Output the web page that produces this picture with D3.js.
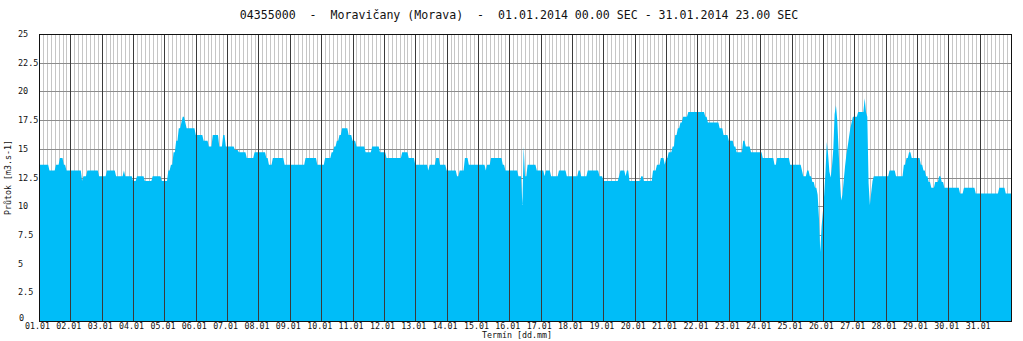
<!DOCTYPE html>
<html>
<head>
<meta charset="utf-8">
<script src="https://cdn.jsdelivr.net/npm/d3@7/dist/d3.min.js"></script>
<style>
  body { margin: 0; background: #fff; }
  svg text { font-family: "DejaVu Sans Mono", "Liberation Mono", monospace; fill: #111; }
</style>
</head>
<body>
<div id="chart"></div>
<script>
// hourly discharge, one row per day (01.01 - 31.01.2014)
var flow = [
  [13.6,13.6,13.6,13.6,13.6,13.6,13.6,13.6,13.1,13.1,13.1,13.1,13.1,13.6,13.6,13.6,14.2,14.2,14.2,13.6,13.6,13.1,13.1,13.1],
  [13.1,13.1,13.1,13.1,13.1,13.1,13.1,13.1,13.1,12.2,12.6,12.6,12.6,13.1,13.1,13.1,13.1,13.1,13.1,13.1,13.1,13.1,12.6,12.6],
  [12.6,12.6,12.6,12.6,13.1,13.1,13.1,13.1,13.1,13.1,13.1,12.6,12.6,12.6,12.6,12.6,12.6,13.1,12.6,12.6,12.6,12.6,12.6,12.6],
  [12.2,12.2,12.2,12.6,12.6,12.6,12.6,12.6,12.6,12.2,12.2,12.2,12.2,12.2,12.2,12.6,12.6,12.6,12.6,12.6,12.6,12.6,12.2,12.2],
  [12.2,12.2,12.2,13.1,13.1,13.6,13.6,14.7,14.7,15.7,15.7,16.8,16.8,17.3,17.8,17.8,17.3,16.8,16.8,16.8,16.8,16.8,16.8,16.8],
  [16.2,16.2,16.2,16.2,16.2,16.2,15.7,15.7,15.7,15.7,15.2,15.2,15.2,16.2,16.2,16.2,16.2,16.2,15.2,15.2,15.2,16.2,16.2,15.2],
  [15.2,15.2,15.2,15.2,15.2,15.2,14.9,14.9,14.9,14.7,14.7,14.7,14.7,14.7,14.7,14.2,14.2,14.2,14.2,14.2,14.2,14.7,14.7,14.7],
  [14.7,14.7,14.7,14.7,14.7,14.7,14.2,14.2,13.6,13.6,13.6,14.2,14.2,14.2,14.2,14.2,14.2,14.2,14.2,14.2,13.6,13.6,13.6,13.6],
  [13.6,13.6,13.6,13.6,13.6,13.6,13.6,13.6,13.6,13.6,13.6,13.6,14.2,14.2,14.2,14.2,14.2,14.2,14.2,14.2,14.2,13.6,13.6,13.6],
  [13.6,13.6,13.6,14.2,14.2,14.2,14.2,14.2,14.7,14.7,15.2,15.2,15.7,15.7,16.2,16.2,16.8,16.8,16.8,16.8,16.8,16.2,16.2,16.2],
  [15.7,15.7,15.7,15.2,15.2,15.2,15.2,15.2,15.2,15.2,14.7,14.7,14.7,14.7,14.7,15.2,15.2,15.2,15.2,15.2,15.2,14.7,14.7,14.7],
  [14.7,14.7,14.2,14.2,14.2,14.2,14.2,14.2,14.2,14.2,14.2,14.2,14.2,14.2,14.7,14.7,14.7,14.7,14.7,14.2,14.2,14.2,14.2,14.2],
  [13.6,13.6,13.6,13.6,13.6,13.6,13.6,13.6,13.6,13.6,13.1,13.6,13.6,13.6,13.6,13.6,14.2,14.2,14.2,13.6,13.6,13.6,13.6,13.6],
  [13.1,13.1,13.1,13.1,13.1,13.1,13.1,13.1,12.6,12.6,13.1,13.1,13.1,13.1,14.2,14.2,14.2,13.6,13.6,13.6,13.6,13.6,13.6,13.6],
  [13.6,13.6,13.6,13.6,13.6,13.6,13.1,13.6,13.6,13.6,14.2,14.2,14.2,14.2,14.2,14.2,14.2,14.2,14.2,13.6,13.6,13.1,13.1,13.1],
  [13.1,13.1,13.1,13.1,13.1,13.1,13.1,12.6,12.6,12.6,10.1,15.2,12.6,12.6,13.6,13.6,13.6,13.6,13.6,13.6,13.6,13.1,13.1,13.1],
  [13.1,13.1,13.1,12.6,13.1,13.1,13.1,13.1,12.6,12.6,12.6,12.6,12.6,12.6,13.1,13.1,13.1,13.1,13.1,13.1,12.6,12.6,12.6,12.6],
  [12.6,12.6,12.6,12.6,12.6,13.1,13.1,12.6,12.6,12.6,12.6,12.6,13.1,13.1,13.1,13.1,13.1,13.1,13.1,13.1,13.1,12.6,12.6,12.6],
  [12.2,12.2,12.2,12.2,12.2,12.2,12.2,12.2,12.2,12.2,12.2,12.2,12.6,13.1,13.1,13.1,13.1,12.6,13.1,13.1,12.2,12.2,12.2,12.2],
  [12.2,12.2,12.2,12.2,12.2,12.6,12.6,12.2,12.2,12.2,12.2,12.2,12.2,12.2,13.1,13.1,13.1,13.6,13.6,13.6,14.2,14.2,14.2,13.6],
  [14.2,14.2,14.7,14.7,14.7,15.2,15.2,16.2,16.2,16.8,16.8,17.3,17.3,17.8,17.8,17.8,17.8,18.2,18.2,18.2,18.2,18.2,18.2,18.2],
  [18.2,18.2,18.2,18.2,18.2,18.2,17.8,17.8,17.3,17.3,17.3,17.3,17.3,17.3,17.3,17.3,17.3,16.8,16.8,16.8,16.2,16.2,16.2,16.2],
  [15.7,15.7,15.7,15.7,15.2,15.2,14.7,14.7,14.7,14.7,14.7,15.7,15.7,15.2,15.2,15.2,15.2,14.7,14.7,14.7,14.7,14.7,14.7,14.7],
  [14.7,14.7,14.2,14.2,14.2,14.2,14.2,14.2,14.2,14.2,14.2,13.6,13.6,14.2,14.2,14.2,14.2,14.2,14.2,14.2,14.2,14.2,14.2,13.6],
  [13.6,13.6,13.6,13.6,13.6,13.6,13.6,13.6,13.1,12.6,12.6,12.6,13.1,13.1,12.6,12.6,12.1,12.1,11.6,11.6,11.0,9.0,6.0,8.2],
  [9.5,11.0,13.0,15.6,14.5,13.0,12.5,13.5,15.0,18.0,18.8,17.5,15.0,12.5,10.5,11.0,12.3,13.5,14.5,15.2,16.0,16.8,17.3,17.8],
  [17.8,17.8,17.8,18.2,18.2,18.2,18.2,18.2,19.4,18.2,17.8,12.0,10.1,11.2,12.2,12.6,12.6,12.6,12.6,12.6,12.6,12.6,12.6,12.6],
  [12.6,12.6,12.6,13.1,13.1,13.1,13.1,13.1,12.6,12.6,12.6,12.6,12.6,12.6,13.6,13.6,14.2,14.2,14.7,14.7,14.2,14.2,14.2,14.2],
  [14.2,14.2,14.2,13.6,13.6,13.1,13.1,12.6,12.6,12.1,12.1,11.6,11.6,11.6,12.1,12.1,12.1,12.6,12.6,12.1,12.1,11.6,11.6,11.6],
  [11.6,11.6,11.6,11.6,11.6,11.6,11.6,11.6,11.6,11.1,11.1,11.1,11.6,11.6,11.6,11.6,11.6,11.6,11.6,11.6,11.6,11.1,11.1,11.1],
  [11.1,11.1,11.1,11.1,11.1,11.1,11.1,11.1,11.1,11.1,11.1,11.1,11.1,11.1,11.1,11.6,11.6,11.6,11.6,11.6,11.1,11.1,11.1,11.1]
];
var dayLabels = ["01.01","02.01","03.01","04.01","05.01","06.01","07.01","08.01","09.01","10.01",
  "11.01","12.01","13.01","14.01","15.01","16.01","17.01","18.01","19.01","20.01",
  "21.01","22.01","23.01","24.01","25.01","26.01","27.01","28.01","29.01","30.01","31.01"];
var yTicks = [0, 2.5, 5, 7.5, 10, 12.5, 15, 17.5, 20, 22.5, 25];
var title = "04355000  -  Moravi\u010dany (Morava)  -  01.01.2014 00.00 SEC - 31.01.2014 23.00 SEC";

function draw() {
    var W = 1023, H = 341;
    var pLeft = 39, pRight = 1011, pTop = 34, pBottom = 321;
    var hours = flow.length * 24;

    var svg = d3.select("#chart").append("svg").attr("width", W).attr("height", H);

    var x = d3.scaleLinear().domain([0, hours]).range([pLeft, pRight]);
    var y = d3.scaleLinear().domain([0, 25]).range([pBottom, pTop]);

    // flatten to hourly points
    var pts = [];
    flow.forEach(function (day, d) {
        day.forEach(function (v, h) { pts.push({ t: d * 24 + h, v: v }); });
    });
    pts.push({ t: hours, v: pts[pts.length - 1].v });

    // light grid: every 3 hours + every 2.5 m3/s
    var grid = svg.append("g").attr("stroke-width", 1).attr("shape-rendering", "crispEdges");
    grid.selectAll("line.v").data(d3.range(3, hours, 3)).enter().append("line")
        .attr("class", "v")
        .attr("stroke", "#c6c6c6")
        .attr("x1", function (d) { return Math.round(x(d)) + 0.5; })
        .attr("x2", function (d) { return Math.round(x(d)) + 0.5; })
        .attr("y1", pTop).attr("y2", pBottom);
    grid.selectAll("line.h").data(yTicks.slice(1, -1)).enter().append("line")
        .attr("class", "h")
        .attr("stroke", "#8c8c8c")
        .attr("x1", pLeft).attr("x2", pRight)
        .attr("y1", function (d) { return Math.round(y(d)) + 0.5; })
        .attr("y2", function (d) { return Math.round(y(d)) + 0.5; });

    // discharge area
    var area = d3.area()
        .x(function (d) { return x(d.t); })
        .y0(y(0))
        .y1(function (d) { return y(d.v); });
    svg.append("path").datum(pts).attr("d", area).attr("fill", "#00bdf8");

    // day lines
    svg.append("g").selectAll("line").data(d3.range(1, flow.length)).enter().append("line")
        .attr("x1", function (d) { return Math.round(x(d * 24)) + 0.5; })
        .attr("x2", function (d) { return Math.round(x(d * 24)) + 0.5; })
        .attr("y1", pTop).attr("y2", pBottom)
        .attr("stroke", "#3a3a3a").attr("stroke-width", 1);

    // frame
    svg.append("rect").attr("x", pLeft + 0.5).attr("y", pTop + 0.5)
        .attr("width", pRight - pLeft).attr("height", pBottom - pTop)
        .attr("fill", "none").attr("stroke", "#111").attr("stroke-width", 1);

    // y tick labels
    svg.append("g").selectAll("text").data(yTicks).enter().append("text")
        .attr("x", function (d) { return d === 0 ? 19 : 18; })
        .attr("y", function (d) { return d === 0 ? y(d) : y(d) + 3; })
        .attr("font-size", "8.5px")
        .text(function (d) { return d; });

    // x day labels
    svg.append("g").selectAll("text").data(dayLabels).enter().append("text")
        .attr("x", function (d, i) { return x(i * 24) - 1.5; })
        .attr("y", 329)
        .attr("text-anchor", "middle")
        .attr("font-size", "8.3px")
        .text(function (d) { return d; });

    // axis titles
    svg.append("text").attr("x", 517).attr("y", 338).attr("text-anchor", "middle")
        .attr("font-size", "8.3px").text("Term\u00edn [dd.mm]");
    svg.append("text").attr("transform", "translate(11," + ((pTop + pBottom) / 2) + ") rotate(-90)")
        .attr("text-anchor", "middle").attr("font-size", "8.3px").text("Pr\u016ftok [m3.s-1]");

    svg.append("text").attr("x", 519).attr("y", 19).attr("text-anchor", "middle")
        .attr("font-size", "11.6px").style("white-space", "pre")
        .text(title);
}
draw();
</script>
</body>
</html>
